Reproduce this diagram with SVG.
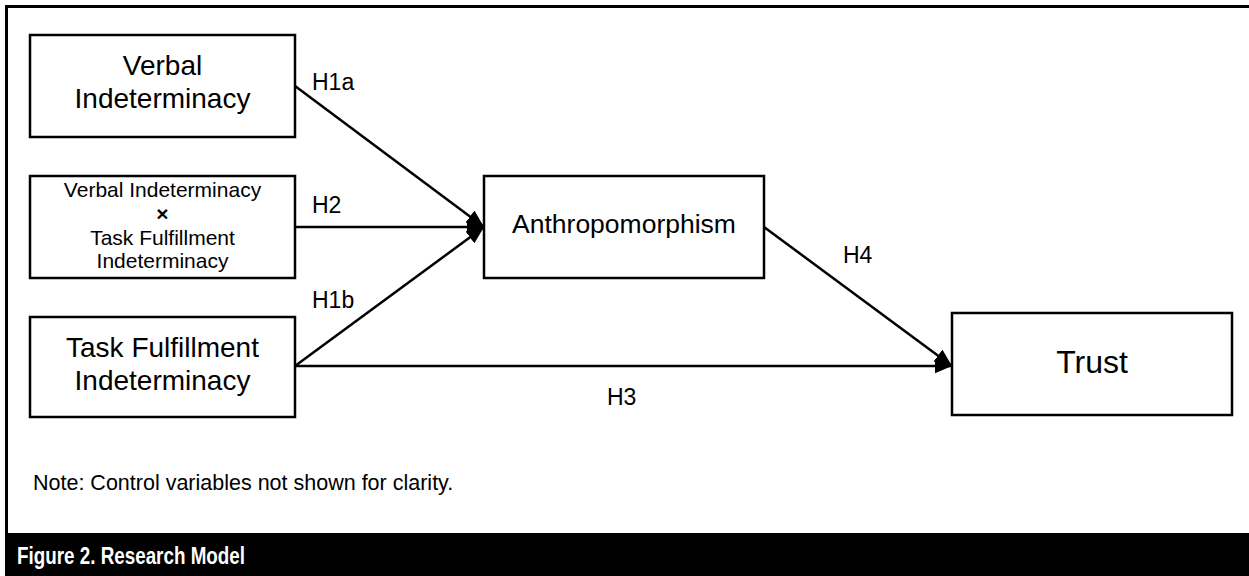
<svg xmlns="http://www.w3.org/2000/svg" width="1249" height="576" viewBox="0 0 1249 576">
<style>
.box{fill:#fff;stroke:#000;stroke-width:2.5}
.t{font-family:"Liberation Sans",Arial,sans-serif;fill:#000;text-anchor:middle}
.lbl{font-family:"Liberation Sans",Arial,sans-serif;fill:#000;font-size:23px}
.con{stroke:#000;stroke-width:2.5;fill:none}
</style>
<defs>
<marker id="ah" markerWidth="7" markerHeight="6" refX="7" refY="3" orient="auto" markerUnits="strokeWidth">
<path d="M0,0 L7,3 L0,6 Z" fill="#000"/>
</marker>
</defs>
<rect width="1249" height="576" fill="#fff"/>
<g id="frame">
<line x1="6.5" y1="5" x2="6.5" y2="576" stroke="#000" stroke-width="3"/>
<line x1="5" y1="6.5" x2="1249" y2="6.5" stroke="#000" stroke-width="3"/>
<rect x="5" y="533" width="1244" height="43" fill="#000"/>
<text x="17" y="564" font-family="'Liberation Sans',Arial,sans-serif" font-weight="bold" font-size="23" fill="#fff" textLength="228" lengthAdjust="spacingAndGlyphs">Figure 2. Research Model</text>
</g>
<g id="connectors">
<line class="con" x1="295" y1="86" x2="484" y2="227" marker-end="url(#ah)"/>
<line class="con" x1="295" y1="227" x2="484" y2="227" marker-end="url(#ah)"/>
<line class="con" x1="295" y1="366" x2="484" y2="227" marker-end="url(#ah)"/>
<line class="con" x1="295" y1="366" x2="952" y2="366" marker-end="url(#ah)"/>
<line class="con" x1="764" y1="227" x2="952" y2="366" marker-end="url(#ah)"/>
<text class="lbl" x="312" y="90">H1a</text>
<text class="lbl" x="312" y="213">H2</text>
<text class="lbl" x="312" y="308">H1b</text>
<text class="lbl" x="843" y="263">H4</text>
<text class="lbl" x="607" y="405">H3</text>
</g>
<g id="verbal">
<rect class="box" x="30" y="35" width="265" height="102"/>
<text class="t" font-size="28" x="162.5" y="75">Verbal</text>
<text class="t" font-size="28" x="162.5" y="108">Indeterminacy</text>
</g>
<g id="interaction">
<rect class="box" x="30" y="176" width="265" height="102"/>
<text class="t" font-size="21" x="162.5" y="197">Verbal Indeterminacy</text>
<text class="t" font-size="21" font-weight="bold" x="162.5" y="221">×</text>
<text class="t" font-size="21" x="162.5" y="245">Task Fulfillment</text>
<text class="t" font-size="21" x="162.5" y="268">Indeterminacy</text>
</g>
<g id="task">
<rect class="box" x="30" y="317" width="265" height="100"/>
<text class="t" font-size="28" x="162.5" y="357">Task Fulfillment</text>
<text class="t" font-size="28" x="162.5" y="390">Indeterminacy</text>
</g>
<g id="anthro">
<rect class="box" x="484" y="176" width="280" height="102"/>
<text class="t" font-size="26.5" x="624" y="233">Anthropomorphism</text>
</g>
<g id="trust">
<rect class="box" x="952" y="313" width="280" height="102"/>
<text class="t" font-size="32" x="1092" y="373">Trust</text>
</g>
<g id="note">
<text x="33" y="490" font-family="'Liberation Sans',Arial,sans-serif" font-size="21.5" fill="#000">Note: Control variables not shown for clarity.</text>
</g>
</svg>
